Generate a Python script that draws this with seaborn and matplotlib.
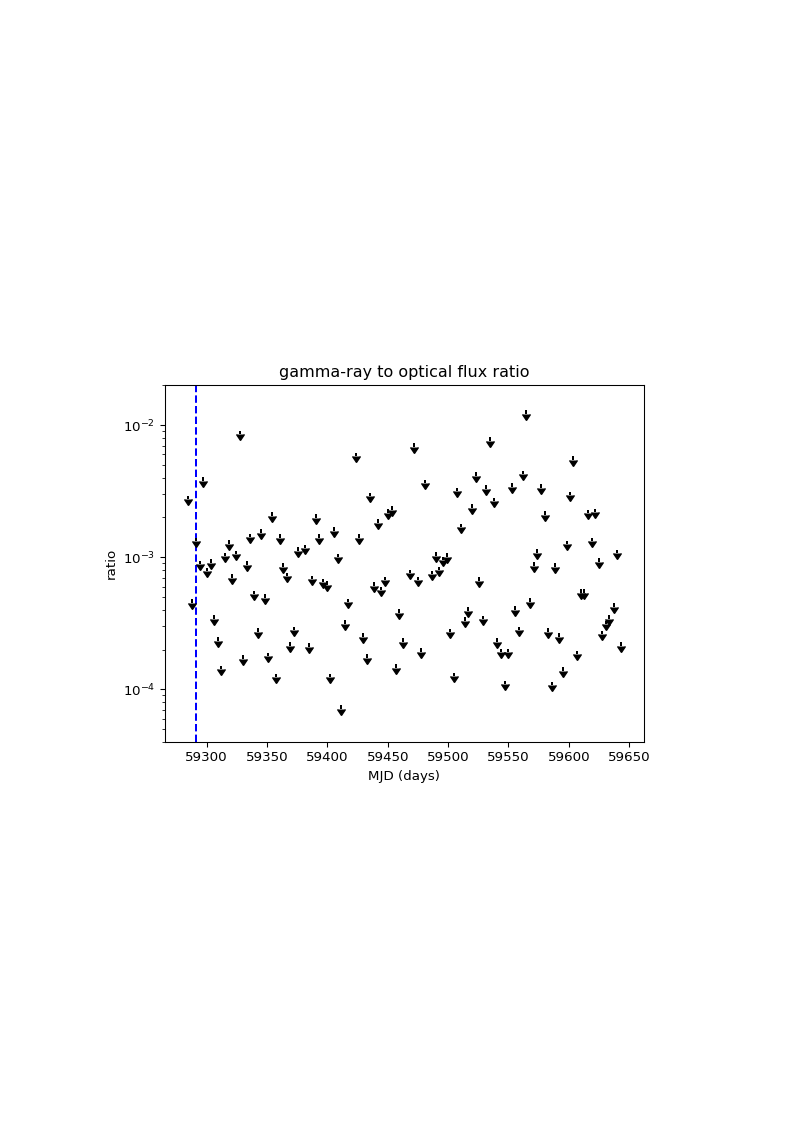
import matplotlib
matplotlib.use("Agg")
import matplotlib.pyplot as plt
import seaborn as sns

# MJD of each bin and the gamma/optical flux ratio upper limit
mjd = [59284.8, 59288.1, 59291.1, 59294.2, 59297.2, 59300.2, 59303.3, 59306.3,
       59309.1, 59312.1, 59315.2, 59318.2, 59321.2, 59324.0, 59327.6, 59330.3,
       59333.1, 59336.1, 59339.2, 59342.2, 59345.2, 59348.3, 59351.0, 59354.4,
       59357.4, 59360.4, 59363.5, 59366.2, 59369.3, 59372.3, 59375.3, 59381.4,
       59384.5, 59387.5, 59390.3, 59393.3, 59396.3, 59399.4, 59402.4, 59405.4,
       59408.5, 59411.5, 59414.5, 59417.3, 59423.4, 59426.4, 59429.5, 59432.5,
       59435.5, 59438.6, 59441.6, 59444.6, 59447.7, 59450.4, 59453.5, 59456.5,
       59459.5, 59463.0, 59468.7, 59471.7, 59474.7, 59477.8, 59480.8, 59486.6,
       59489.6, 59492.7, 59495.7, 59498.8, 59501.8, 59504.8, 59507.6, 59510.6,
       59513.7, 59516.7, 59519.7, 59522.8, 59525.8, 59528.8, 59531.5, 59534.6,
       59537.9, 59540.7, 59543.5, 59546.8, 59549.8, 59552.9, 59555.6, 59558.7,
       59561.7, 59564.7, 59567.8, 59570.8, 59573.8, 59576.9, 59579.9, 59582.9,
       59585.7, 59588.8, 59591.8, 59594.8, 59598.1, 59600.6, 59603.7, 59606.7,
       59609.7, 59612.8, 59615.5, 59618.8, 59621.9, 59624.9, 59627.9, 59631.0,
       59633.7, 59637.1, 59639.8, 59643.1]

ratio = [2.91e-3, 4.80e-4, 1.40e-3, 9.44e-4, 4.04e-3, 8.32e-4, 9.62e-4, 3.63e-4,
         2.49e-4, 1.51e-4, 1.08e-3, 1.34e-3, 7.45e-4, 1.12e-3, 9.04e-3, 1.82e-4,
         9.33e-4, 1.51e-3, 5.57e-4, 2.91e-4, 1.63e-3, 5.26e-4, 1.90e-4, 2.20e-3,
         1.31e-4, 1.50e-3, 9.00e-4, 7.66e-4, 2.27e-4, 2.98e-4, 1.19e-3, 1.24e-3,
         2.23e-4, 7.27e-4, 2.12e-3, 1.50e-3, 6.90e-4, 6.59e-4, 1.31e-4, 1.69e-3,
         1.06e-3, 7.62e-5, 3.34e-4, 4.87e-4, 6.18e-3, 1.50e-3, 2.65e-4, 1.85e-4,
         3.07e-3, 6.49e-4, 1.93e-3, 5.98e-4, 7.11e-4, 2.31e-3, 2.43e-3, 1.55e-4,
         4.03e-4, 2.44e-4, 8.04e-4, 7.28e-3, 7.11e-4, 2.04e-4, 3.85e-3, 7.93e-4,
         1.09e-3, 8.45e-4, 1.01e-3, 1.07e-3, 2.88e-4, 1.34e-4, 3.35e-3, 1.79e-3,
         3.52e-4, 4.17e-4, 2.52e-3, 4.40e-3, 7.03e-4, 3.60e-4, 3.51e-3, 8.07e-3,
         2.83e-3, 2.43e-4, 2.03e-4, 1.16e-4, 2.03e-4, 3.62e-3, 4.27e-4, 2.98e-4,
         4.50e-3, 1.29e-2, 4.88e-4, 9.16e-4, 1.15e-3, 3.56e-3, 2.22e-3, 2.90e-4,
         1.14e-4, 9.01e-4, 2.65e-4, 1.47e-4, 1.33e-3, 3.12e-3, 5.81e-3, 1.96e-4,
         5.74e-4, 5.74e-4, 2.28e-3, 1.41e-3, 2.33e-3, 9.80e-4, 2.78e-4, 3.31e-4,
         3.63e-4, 4.48e-4, 1.14e-3, 2.27e-4]

event_mjd = 59291.0

sns.set_style("ticks", {"axes.edgecolor": "black", "text.color": "black",
                        "axes.labelcolor": "black", "xtick.color": "black",
                        "ytick.color": "black"})
plt.rcParams['font.family'] = ['DejaVu Sans']

fig = plt.figure(figsize=(794 / 96, 1123 / 96), dpi=96)
ax = fig.add_axes([0.2074, 0.3393, 0.6037, 0.3176])

ax.axvline(event_mjd, color='b', linestyle='--', linewidth=1.5)
ax.errorbar(mjd, ratio, yerr=[r * 0.06 for r in ratio], uplims=True,
            fmt='none', color='k', ecolor='k', elinewidth=1.5)

ax.set_yscale('log')
ax.set_ylim(4e-5, 2e-2)
ax.set_xlim(59265.2, 59662.3)
ax.set_title('gamma-ray to optical flux ratio', fontsize=12)
ax.set_xlabel('MJD (days)')
ax.set_ylabel('ratio')

fig.savefig('out.png', dpi=96)
